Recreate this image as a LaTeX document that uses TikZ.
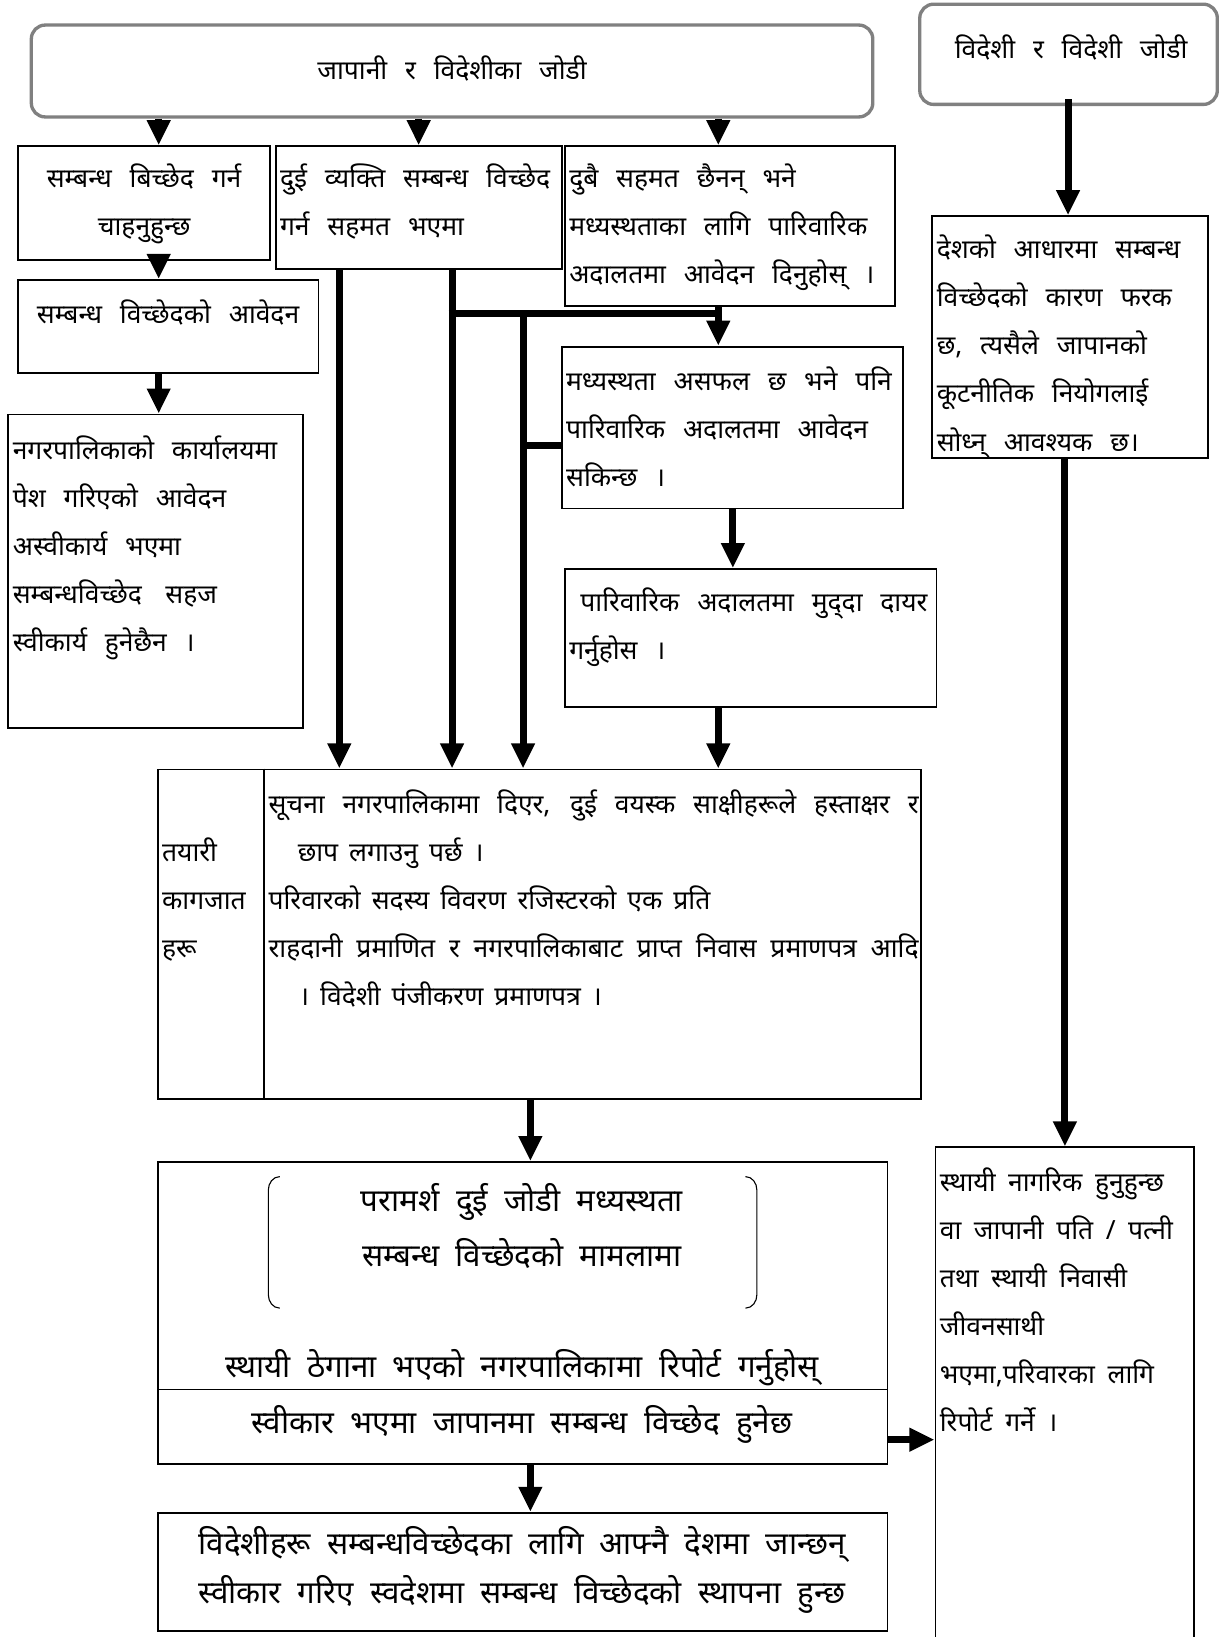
\documentclass[tikz,border=0pt]{standalone}
\usepackage{fontspec}
\newfontfamily\dev[Script=Devanagari]{Noto Sans}
\usetikzlibrary{arrows.meta,fit}
\newcommand\nlines[1]{\parbox[t]{400pt}{\raggedright #1}}
\newcommand\clines[2]{\parbox[t]{#1}{\centering #2}}
\newcommand\jline[2]{\makebox[#1][s]{#2}}
\tikzset{
  box/.style={draw=black, line width=1.3pt, inner sep=0pt},
  rbox/.style={draw=black!50, rounded corners=10pt, line width=2.4pt, inner sep=0pt},
  conn/.style={line width=5pt},
  arr/.style={line width=5pt, -{Triangle[length=18pt,width=16pt]}},
  txt/.style={inner sep=0pt, anchor=base west, font={\dev\fontsize{19}{34.5}\selectfont\spaceskip=12.8pt plus 4pt minus 2pt\relax}},
  ctxt/.style={txt, anchor=base},
  mtxt/.style={inner sep=0pt, anchor=base west, font={\dev\fontsize{19}{34.5}\selectfont\spaceskip=9pt plus 3pt minus 2pt\relax}},
  htxt/.style={inner sep=0pt, anchor=base west, font={\dev\fontsize{19}{34.5}\selectfont\spaceskip=7.9pt plus 30pt minus 2pt\relax}},
  btxt/.style={inner sep=0pt, anchor=base, font={\dev\fontsize{22.5}{35}\selectfont\spaceskip=11.7pt plus 4pt minus 2pt\relax}},
}
\begin{document}
\begin{tikzpicture}[x=0.75pt,y=-0.75pt]
\useasboundingbox (0,0) rectangle (1168,1568);
% boxes
\node[rbox, fit={(30,24) (836,112)}] (A) {};
\node[rbox, fit={(881,4) (1166,100)}] (B) {};
\node[box, fit={(17,140) (259,249)}] (C) {};
\node[box, fit={(264,140) (538,258)}] (D) {};
\node[box, fit={(541,140) (857,293)}] (E) {};
\node[box, fit={(17,268) (305,357)}] (F) {};
\node[box, fit={(8,397) (290,697)}] (G) {};
\node[box, fit={(538,332) (865,487)}] (I) {};
\node[box, fit={(541,545) (897,677)}] (J) {};
\node[box, fit={(151,737) (882,1053)}] (H) {};
\node[box, fit={(151,1113) (850,1331)}] (K) {};
\node[box, fit={(151,1331) (850,1402)}] (L) {};
\node[box, fit={(151,1449) (850,1562)}] (N) {};
\node[box, fit={(893,207) (1157,439)}] (O) {};
\node[box, fit={(896,1099) (1144,1590)}] (M) {};
% texts
\node[ctxt] (tA) at (433,76) {जापानी र विदेशीका जोडी};
\node[ctxt] (tB) at (1026,56) {विदेशी र विदेशी जोडी};
\node[ctxt] (tC) at (138,180) {\clines{172pt}{सम्बन्ध बिच्छेद गर्न\\चाहनुहुन्छ}};
\node[txt] (tD) at (268,180) {\nlines{दुई व्यक्ति सम्बन्ध विच्छेद\\गर्न सहमत भएमा}};
\node[txt] (tE) at (545,180) {\nlines{दुबै सहमत छैनन् भने\\मध्यस्थताका लागि पारिवारिक\\अदालतमा आवेदन दिनुहोस् ।}};
\node[ctxt] (tF) at (161,310) {सम्बन्ध विच्छेदको आवेदन};
\node[txt] (tG) at (12,440) {\nlines{नगरपालिकाको कार्यालयमा\\पेश गरिएको आवेदन\\अस्वीकार्य भएमा\\सम्बन्धविच्छेद\hspace{17pt}सहज\\स्वीकार्य हुनेछैन ।}};
\node[txt] (tI) at (542,374) {\nlines{मध्यस्थता असफल छ भने पनि\\पारिवारिक अदालतमा आवेदन\\सकिन्छ ।}};
\node[txt] (tJ) at (545,586) {\nlines{\hspace*{8pt}पारिवारिक अदालतमा मुद्^^^^200cदा दायर\\गर्नुहोस ।}};
\node[txt] (tO) at (897,248) {\nlines{देशको आधारमा सम्बन्ध\\विच्छेदको कारण फरक\\छ, त्यसैले जापानको\\कूटनीतिक नियोगलाई\\सोध्न् आवश्यक छ।}};
\node[htxt] (tH1) at (155,825) {\nlines{तयारी\\कागजात\\हरू}};
\node[htxt] (tH2) at (257,779) {\nlines{\jline{467pt}{सूचना नगरपालिकामा दिएर, दुई वयस्क साक्षीहरूले हस्ताक्षर र}\\\hspace*{21pt}छाप लगाउनु पर्छ ।\\परिवारको सदस्य विवरण रजिस्टरको एक प्रति\\\jline{467pt}{राहदानी प्रमाणित र नगरपालिकाबाट प्राप्त निवास प्रमाणपत्र आदि}\\\hspace*{22pt}। विदेशी पंजीकरण प्रमाणपत्र ।}};
\node[btxt] (tK1) at (500,1160) {परामर्श दुई जोडी मध्यस्थता};
\node[btxt] (tK2) at (500,1213) {सम्बन्ध विच्छेदको मामलामा};
\node[btxt] (tK3) at (500,1319) {स्थायी ठेगाना भएको नगरपालिकामा रिपोर्ट गर्नुहोस्};
\node[btxt] (tL) at (500,1373) {स्वीकार भएमा जापानमा सम्बन्ध विच्छेद हुनेछ};
\node[btxt] (tN1) at (500,1489) {विदेशीहरू सम्बन्धविच्छेदका लागि आफ्नै देशमा जान्छन्};
\node[btxt] (tN2) at (500,1536) {स्वीकार गरिए स्वदेशमा सम्बन्ध विच्छेदको स्थापना हुन्छ};
\node[mtxt] (tM) at (900,1141) {\nlines{स्थायी नागरिक हुनुहुन्छ\\वा जापानी पति / पत्नी\\तथा स्थायी निवासी\\जीवनसाथी\\भएमा,परिवारका लागि\\रिपोर्ट गर्ने ।}};
% brackets in K
\draw[line width=0.8pt] (268,1127) to[out=180,in=90] (257,1140) -- (257,1240) to[out=-90,in=180] (268,1253);
\draw[line width=0.8pt] (714,1127) to[out=0,in=90] (725,1140) -- (725,1240) to[out=-90,in=0] (714,1253);
% H divider
\coordinate (cxH) at (253,0);
\draw[line width=1.3pt] (H.north -| cxH) -- (H.south -| cxH);
% connector coordinates
\coordinate (cx1) at (152,0);
\coordinate (cx2) at (401,0);
\coordinate (cx3) at (688,0);
\coordinate (cx4) at (325,0);
\coordinate (cx5) at (433,0);
\coordinate (cx6) at (501,0);
\coordinate (cx7) at (702,0);
\coordinate (cx8) at (508,0);
\coordinate (cx9) at (1023,0);
\coordinate (cx10) at (1020,0);
\coordinate (cy1) at (0,300);
\coordinate (cy2) at (0,427);
\coordinate (cy3) at (0,1379);
% connectors
\draw[arr] (A.south -| cx1) -- (C.north -| cx1);
\draw[arr] (A.south -| cx2) -- (D.north -| cx2);
\draw[arr] (A.south -| cx3) -- (E.north -| cx3);
\draw[arr] (C.south -| cx1) -- (F.north -| cx1);
\draw[arr] (F.south -| cx1) -- (G.north -| cx1);
\draw[arr] (D.south -| cx4) -- (H.north -| cx4);
\draw[arr] (D.south -| cx5) -- (H.north -| cx5);
\draw[conn] ([xshift=-2.5pt]cx5 |- cy1) -- (cx3 |- cy1);
\draw[arr] (E.south -| cx3) -- (I.north -| cx3);
\draw[arr] (cx6 |- cy1) -- (H.north -| cx6);
\draw[conn] (cx6 |- cy2) -- (I.west |- cy2);
\draw[arr] (I.south -| cx7) -- (J.north -| cx7);
\draw[arr] (J.south -| cx3) -- (H.north -| cx3);
\draw[arr] (H.south -| cx8) -- (K.north -| cx8);
\draw[arr] (L.south -| cx8) -- (N.north -| cx8);
\draw[arr] (L.east |- cy3) -- (M.west |- cy3);
\draw[arr] ([yshift=5pt]B.south -| cx9) -- (O.north -| cx9);
\draw[arr] (O.south -| cx10) -- (M.north -| cx10);
\end{tikzpicture}
\end{document}
